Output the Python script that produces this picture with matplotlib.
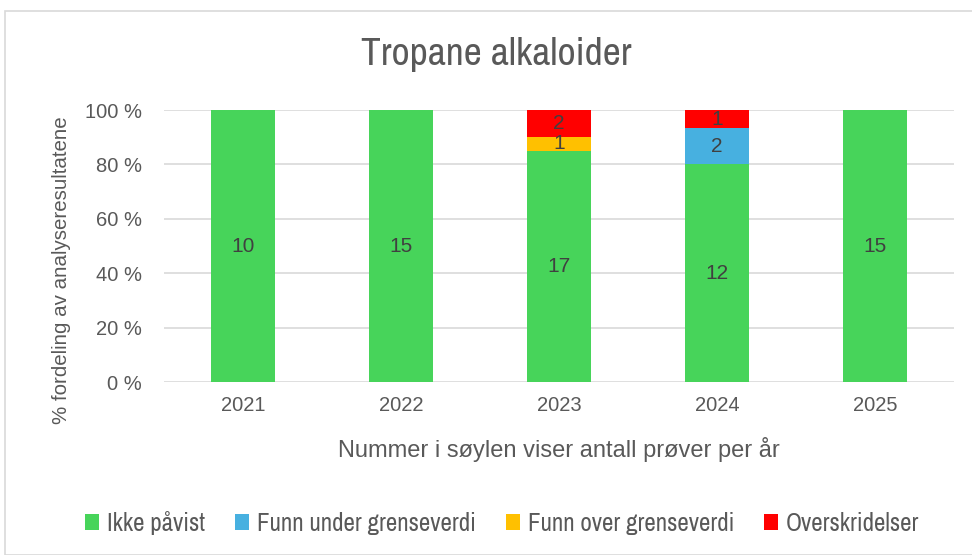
import numpy as np
import matplotlib
matplotlib.use("Agg")
import matplotlib.pyplot as plt
from matplotlib.patches import Rectangle
from matplotlib.ticker import FuncFormatter
from matplotlib import font_manager

years = ["2021", "2022", "2023", "2024", "2025"]
ikke_pavist = [10, 15, 17, 12, 15]
funn_under = [0, 0, 0, 2, 0]
funn_over = [0, 0, 1, 0, 0]
overskridelser = [0, 0, 2, 1, 0]

series = [
    ("Ikke påvist", ikke_pavist, "#47D45A"),
    ("Funn under grenseverdi", funn_under, "#47B0E0"),
    ("Funn over grenseverdi", funn_over, "#FFC000"),
    ("Overskridelser", overskridelser, "#FF0000"),
]

names = sorted({f.name for f in font_manager.fontManager.ttflist})
narrow_fams = [n for n in names if "Narrow" in n or "Condensed" in n]

plt.rcParams["font.family"] = ["Liberation Sans", "DejaVu Sans"]
txt = "#595959"
narrow = narrow_fams[:1] + ["DejaVu Sans"]

fig = plt.figure(figsize=(9.72, 5.55), dpi=100)
fig.patches.append(Rectangle((5 / 972, 0), 1, 1 - 11 / 555, transform=fig.transFigure,
                             fill=False, edgecolor="#D9D9D9", linewidth=1.2))
ax = fig.add_axes([164 / 972, 1 - 382 / 555, 790 / 972, 272 / 555])

totals = np.sum([s[1] for s in series], axis=0)
x = np.arange(len(years))
bottom = np.zeros(len(years))
for name, vals, col in series:
    vals = np.array(vals, dtype=float)
    pct = vals / totals * 100
    ax.bar(x, pct, width=0.4, bottom=bottom, color=col, label=name, zorder=2)
    for i in range(len(years)):
        if vals[i] > 0:
            ax.text(x[i], bottom[i] + pct[i] / 2, f"{int(vals[i])}", ha="center", va="center",
                    fontsize=15, color="#404040", zorder=3)
    bottom += pct

ax.set_xlim(-0.5, len(years) - 0.5)
ax.set_ylim(0, 100)
ax.set_yticks(range(0, 101, 20))
ax.yaxis.set_major_formatter(FuncFormatter(lambda v, p: f"{int(v)} %"))
ax.set_xticks(x)
ax.set_xticklabels(years)
ax.grid(axis="y", color="#D9D9D9", linewidth=1.2, zorder=0)
ax.set_axisbelow(True)
for s in ax.spines.values():
    s.set_visible(False)
ax.tick_params(length=0, labelsize=14.5, colors=txt)
ax.tick_params(axis="x", pad=10)
ax.tick_params(axis="y", pad=16)

ax.set_ylabel("% fordeling av analyseresultatene", fontsize=14.8, color=txt)
ax.yaxis.set_label_coords(-0.118, 0.412)
fig.text(559 / 972, 1 - 450 / 555, "Nummer i søylen viser antall prøver per år",
         ha="center", va="center", fontsize=17, color=txt)
fig.text(496 / 972, 1 - 55 / 555, "Tropane alkaloider", ha="center", va="center",
         fontsize=28.5, color=txt, family=narrow)

fig.legend(loc="center", bbox_to_anchor=(502 / 972, 1 - 523 / 555), ncol=4, frameon=False,
           prop={"family": narrow, "size": 18}, handlelength=0.58, handleheight=0.58,
           handletextpad=0.3, columnspacing=1.2, labelcolor=txt)

fig.savefig("out.png", dpi=100)
